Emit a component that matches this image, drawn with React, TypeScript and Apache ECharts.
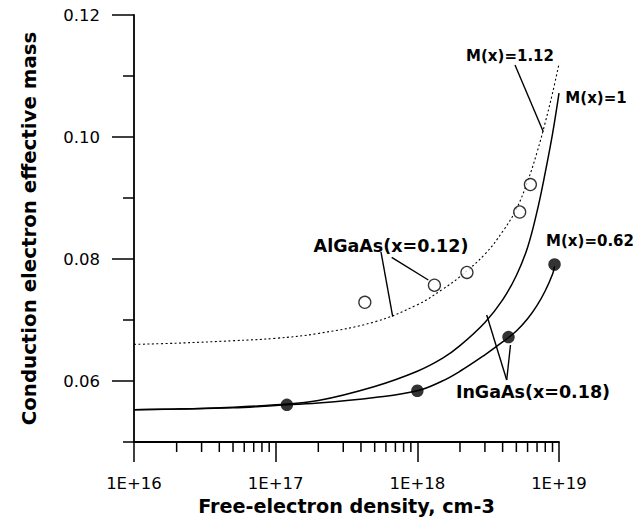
import React, { useEffect, useRef } from 'react';
import * as echarts from 'echarts';

// Free-electron density (cm-3) sampling of the model curves
const curveDensity = [1e16, 2e16, 5e16, 1e17, 2e17, 5e17, 1e18, 1.5e18, 2e18, 3e18, 4e18, 5e18, 6e18, 7e18, 8e18, 9e18, 1e19];
// M(x)=1.12 (AlGaAs model, dotted)
const massM112 = [0.0660, 0.0662, 0.0666, 0.0670, 0.0678, 0.0697, 0.0725, 0.0750, 0.0771, 0.0808, 0.0845, 0.0882, 0.0927, 0.0975, 0.1024, 0.1072, 0.1120];
// M(x)=1 (solid)
const massM100 = [0.0553, 0.0554, 0.0557, 0.0561, 0.0568, 0.0591, 0.0616, 0.0637, 0.0658, 0.0696, 0.0733, 0.0773, 0.0819, 0.0878, 0.0942, 0.1005, 0.1072];
// M(x)=0.62 (solid, lower)
const lowCurveDensity = [1e16, 2e16, 5e16, 1e17, 2e17, 5e17, 1e18, 1.5e18, 2e18, 3e18, 4e18, 5e18, 6e18, 7e18, 8e18, 9e18, 9.3e18];
const massM062 = [0.0553, 0.0554, 0.0556, 0.0560, 0.0564, 0.0573, 0.0584, 0.0600, 0.0616, 0.0643, 0.0664, 0.0682, 0.0702, 0.0724, 0.0748, 0.0775, 0.0788];

// Measured points
const algaasDensity = [4.26e17, 1.32e18, 2.24e18, 5.28e18, 6.28e18];
const algaasMass = [0.0729, 0.0757, 0.0778, 0.0877, 0.0922];
const ingaasDensity = [1.2e17, 1.0e18, 4.4e18, 9.3e18];
const ingaasMass = [0.0561, 0.0584, 0.0672, 0.0791];

// Axis ticks
const xDecades = [1e16, 1e17, 1e18];
const xMinorMultipliers = [2, 3, 4, 5, 6, 7, 8, 9];
const yMajorTicks = [0.06, 0.08, 0.10, 0.12];
const yMinorTicks = [0.05, 0.07, 0.09, 0.11];

const FONT = 'DejaVu Sans';

export default function App() {
  const ref = useRef<HTMLDivElement>(null);

  useEffect(() => {
    document.body.style.margin = '0';
    if (!ref.current) return;
    const chart = echarts.init(ref.current, null, { renderer: 'svg' });

    const black = '#000';

    const lineSt = (x1: number, y1: number, x2: number, y2: number, w = 1.4) => ({
      type: 'line',
      shape: { x1, y1, x2, y2 },
      style: { stroke: black, lineWidth: w },
      silent: true,
    });
    const label = (text: string, x: number, y: number, size: number) => ({
      type: 'text',
      x,
      y,
      style: {
        text,
        fill: black,
        font: `bold ${size}px "${FONT}"`,
        align: 'center',
        verticalAlign: 'middle',
      },
      silent: true,
    });

    const curve = (name: string, xs: number[], ys: number[], dashed: boolean) => ({
      name,
      type: 'line',
      data: xs.map((n, i) => [n, ys[i]]),
      showSymbol: false,
      smooth: 0.4,
      lineStyle: dashed ? { color: black, width: 1.1, type: [2, 2.5] } : { color: black, width: 1.5 },
      z: 2,
    });

    chart.setOption({
      animation: false,
      backgroundColor: '#fff',
      grid: { left: 134, right: 76, top: 15, bottom: 80, containLabel: false, outerBoundsMode: 'none' },
      xAxis: {
        type: 'log',
        logBase: 10,
        min: 1e16,
        max: 1e19,
        name: 'Free-electron density, cm-3',
        nameLocation: 'middle',
        nameGap: 55,
        nameTextStyle: { fontFamily: FONT, fontWeight: 'bold', fontSize: 19.2, color: black },
        axisLine: { show: true, onZero: false, lineStyle: { color: black, width: 1.8 } },
        axisTick: { show: true, inside: false, length: 20, lineStyle: { color: black, width: 1.5 } },
        minorTick: { show: false },
        splitLine: { show: false },
        axisLabel: {
          margin: 33,
          fontFamily: FONT,
          fontSize: 16.5,
          color: black,
          formatter: (v: number) => '1E+' + Math.round(Math.log10(v)),
        },
      },
      yAxis: {
        type: 'value',
        min: 0.05,
        max: 0.12,
        interval: 0.01,
        name: 'Conduction electron effective mass',
        nameLocation: 'middle',
        nameGap: 95,
        nameTextStyle: { fontFamily: FONT, fontWeight: 'bold', fontSize: 19.8, color: black },
        axisLine: { show: true, onZero: false, lineStyle: { color: black, width: 1.8 } },
        axisTick: { show: false },
        splitLine: { show: false },
        axisLabel: {
          margin: 34,
          fontFamily: FONT,
          fontSize: 16.5,
          color: black,
          formatter: (v: number) => {
            const k = Math.round(v * 100);
            return k % 2 === 0 ? v.toFixed(2) : '';
          },
        },
      },
      series: [
        curve('M(x)=1.12', curveDensity, massM112, true),
        curve('M(x)=1', curveDensity, massM100, false),
        curve('M(x)=0.62', lowCurveDensity, massM062, false),
        {
          name: 'AlGaAs(x=0.12)',
          type: 'scatter',
          data: algaasDensity.map((n, i) => [n, algaasMass[i]]),
          symbol: 'circle',
          symbolSize: 12,
          itemStyle: { color: '#fff', borderColor: black, borderWidth: 1.3 },
          z: 3,
        },
        {
          name: 'InGaAs(x=0.18)',
          type: 'scatter',
          data: ingaasDensity.map((n, i) => [n, ingaasMass[i]]),
          symbol: 'circle',
          symbolSize: 12.5,
          itemStyle: { color: black },
          z: 3,
        },
      ],
    });

    // Extra axis ticks placed through the chart's own scales
    const toPx = (x: number, y: number) =>
      chart.convertToPixel({ xAxisIndex: 0, yAxisIndex: 0 }, [x, y]) as number[];
    const tickEls: any[] = [];
    xDecades.forEach((d) =>
      xMinorMultipliers.forEach((m) => {
        const p = toPx(d * m, 0.05);
        tickEls.push(lineSt(p[0], p[1], p[0], p[1] + 10, 1.5));
      })
    );
    yMajorTicks.forEach((v) => {
      const p = toPx(1e16, v);
      tickEls.push(lineSt(p[0] - 22, p[1], p[0], p[1], 1.5));
    });
    yMinorTicks.forEach((v) => {
      const p = toPx(1e16, v);
      tickEls.push(lineSt(p[0] - 11, p[1], p[0], p[1], 1.5));
    });

    chart.setOption({
      graphic: [
        ...tickEls,
        label('M(x)=1.12', 510, 56, 15),
        label('M(x)=1', 596, 98, 15),
        label('AlGaAs(x=0.12)', 391, 245.5, 17.5),
        label('M(x)=0.62', 590, 241, 15),
        label('InGaAs(x=0.18)', 533, 392, 17.5),
        lineSt(515, 65, 543.3, 131.7),
        lineSt(381, 252, 392.7, 316.7),
        lineSt(391.7, 257.3, 428.3, 280),
        lineSt(506.7, 380, 486.7, 315),
        lineSt(506.7, 380, 510.5, 345),
      ],
    });

    return () => chart.dispose();
  }, []);

  return <div ref={ref} style={{ width: 635, height: 522 }} />;
}
